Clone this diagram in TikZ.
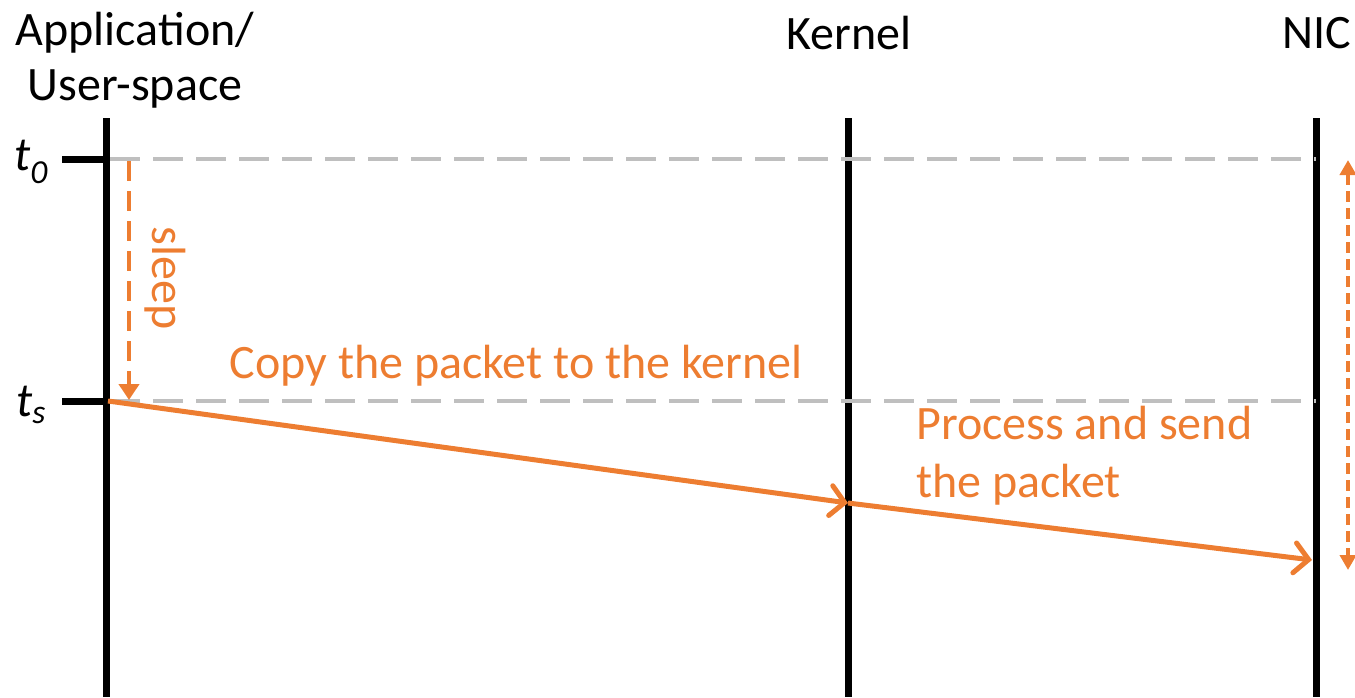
\documentclass[tikz,border=0pt]{standalone}
\usepackage{fontspec}
\setmainfont{Carlito}
\usetikzlibrary{arrows.meta}
\definecolor{orng}{HTML}{ED7D31}
\definecolor{gry}{HTML}{BFBFBF}
\begin{document}
\begin{tikzpicture}[x=1pt,y=-1pt,
  life/.style={line width=7pt,black},
  tick/.style={line width=7pt,black},
  guide/.style={line width=4pt,gry,dash pattern=on 30pt off 13pt},
  msg/.style={line width=5pt,orng,-{Straight Barb[length=14pt,width=30pt,line cap=round,line width=5pt]}},
  sleeparr/.style={line width=4.5pt,orng,dash pattern=on 20pt off 10pt,-{Triangle[length=16pt,width=20pt]}},
  span/.style={line width=4pt,orng,dash pattern=on 11pt off 6pt,{Triangle[length=15pt,width=16pt]}-{Triangle[length=15pt,width=16pt]}},
  lbl/.style={font=\fontsize{48}{55}\selectfont,inner sep=0pt},
  olbl/.style={font=\fontsize{48}{58}\selectfont,inner sep=0pt,text=orng}]
\useasboundingbox (0,0) rectangle (1355,697);
% headers
\node[lbl,align=center] (app) at (135,60) {Application/\\User-space};
\node[lbl] (ker) at (849,33) {Kernel};
\node[lbl] (nic) at (1317,33) {NIC};
% lifelines
\coordinate (a0) at (106,118); \coordinate (a1) at (106,697);
\coordinate (k0) at (848,118); \coordinate (k1) at (848,697);
\coordinate (n0) at (1316,118); \coordinate (n1) at (1316,697);
\draw[life] (a0) -- (a1);
\draw[life] (k0) -- (k1);
\draw[life] (n0) -- (n1);
% ticks
\coordinate (t0l) at (62,159); \coordinate (t0r) at (106,159);
\coordinate (tsl) at (62,401); \coordinate (tsr) at (106,401);
\draw[tick] (t0l) -- (t0r);
\draw[tick] (tsl) -- (tsr);
\node[lbl,font=\fontsize{48}{55}\selectfont\itshape] (t0) at (31,162) {t\textsubscript{0}};
\node[lbl,font=\fontsize{48}{55}\selectfont\itshape] (ts) at (31,405) {t\textsubscript{s}};
% guides
\coordinate (g0a) at (110,159); \coordinate (g0b) at (1316,159);
\coordinate (g1a) at (110,401); \coordinate (g1b) at (1316,401);
\draw[guide] (g0a) -- (g0b);
\draw[guide] (g1a) -- (g1b);
% sleep
\coordinate (s0) at (129,161); \coordinate (s1) at (129,400);
\draw[sleeparr] (s0) -- (s1);
\node[olbl,rotate=-90] (sleep) at (165,278) {sleep};
% messages
\coordinate (m0) at (108,401);
\coordinate (m1) at (848,503);
\coordinate (m2) at (1312,560);
\draw[msg] (m0) -- (m1);
\draw[msg] (m1) -- (m2);
\node[olbl] (copy) at (516,366) {Copy the packet to the kernel};
\node[olbl,align=left,anchor=west] (proc) at (916,456) {Process and send\\the packet};
% span
\coordinate (r0) at (1348,160); \coordinate (r1) at (1348,570);
\draw[span] (r0) -- (r1);
\end{tikzpicture}
\end{document}
